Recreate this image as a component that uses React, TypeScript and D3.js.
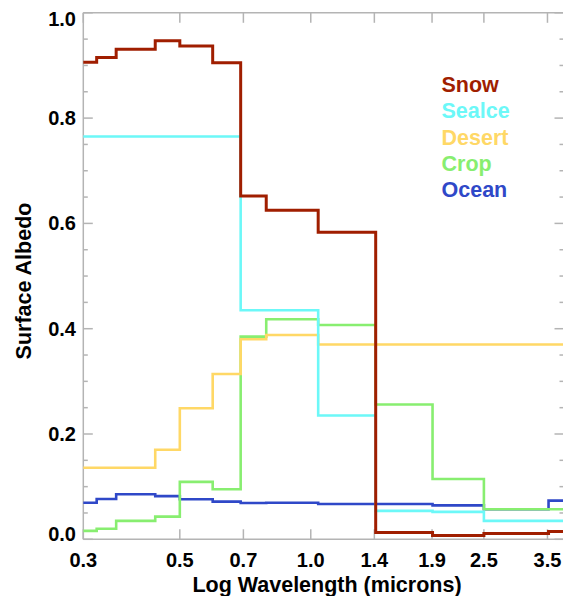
import React from "react";
import * as d3 from "d3";

const edges = [0.3, 0.322, 0.357, 0.439, 0.5, 0.595, 0.69, 0.79, 1.04, 1.41, 1.905, 2.5, 3.52, 3.82];
const snow = [0.906, 0.915, 0.931, 0.947, 0.937, 0.905, 0.652, 0.625, 0.583, 0.013, 0.007, 0.011, 0.015];
const sealce = [0.765, 0.765, 0.765, 0.765, 0.765, 0.765, 0.435, 0.435, 0.235, 0.054, 0.052, 0.035, 0.035];
const desert = [0.136, 0.136, 0.136, 0.17, 0.249, 0.314, 0.38, 0.388, 0.37, 0.37, 0.37, 0.37, 0.37];
const crop = [0.016, 0.02, 0.035, 0.043, 0.109, 0.095, 0.385, 0.418, 0.407, 0.256, 0.1145, 0.057, 0.057];
const ocean = [0.0695, 0.0765, 0.0855, 0.082, 0.076, 0.0715, 0.069, 0.0695, 0.067, 0.067, 0.0645, 0.057, 0.0735];

const seriesNames = ["Snow", "Sealce", "Desert", "Crop", "Ocean"];
const seriesValues = [snow, sealce, desert, crop, ocean];
const seriesColors = ["#a01e00", "#6cf8f8", "#ffd866", "#88ee70", "#2f48c8"];
const seriesWidths = [3, 2.6, 2.6, 2.6, 2.6];

const xTicks = [0.3, 0.5, 0.7, 1.0, 1.4, 1.9, 2.5, 3.5];
const yMajor = [0, 0.2, 0.4, 0.6, 0.8, 1.0];
const yMinor = d3.range(0, 1.0001, 0.05);

const W = 563, H = 596;
const L = 83.3, R = 564, T = 12.8, B = 539.3;
const FONT = "'Liberation Sans', Arial, Helvetica, sans-serif";

export default function App() {
  const x = d3.scaleLog().domain([0.3, 3.82]).range([L, R]);
  const y = d3.scaleLinear().domain([0, 1]).range([B, T]);
  const line = d3
    .line<[number, number]>()
    .x((d) => x(d[0]))
    .y((d) => y(d[1]))
    .curve(d3.curveStepAfter);
  const axisColor = "#b4b4b4";
  const order = [4, 3, 2, 1, 0];

  return (
    <svg width={W} height={H} style={{ position: "absolute", left: 0, top: 0, background: "#fff" }}>
      <defs>
        <clipPath id="plot">
          <rect x={L} y={T - 3} width={R - L} height={B - T + 6} />
        </clipPath>
      </defs>
      {/* axes box */}
      <g stroke={axisColor} strokeWidth={1.5} fill="none">
        <line x1={L} x2={R} y1={T} y2={T} />
        <line x1={L} x2={R} y1={B} y2={B} />
        <line x1={L} x2={L} y1={T} y2={B} />
        <line x1={R} x2={R} y1={T} y2={B} />
        {xTicks.map((t) => (
          <g key={"xt" + t}>
            <line x1={x(t)} x2={x(t)} y1={B} y2={B - 10} />
            <line x1={x(t)} x2={x(t)} y1={T} y2={T + 10} />
          </g>
        ))}
        {yMinor.map((t, i) => {
          const major = i % 4 === 0;
          const len = major ? 9.5 : 4.5;
          return (
            <g key={"yt" + i}>
              <line x1={L} x2={L + len} y1={y(t)} y2={y(t)} />
              <line x1={R} x2={R - len} y1={y(t)} y2={y(t)} />
            </g>
          );
        })}
      </g>
      {/* series */}
      <g clipPath="url(#plot)" fill="none">
        {order.map((k) => {
          const vals = seriesValues[k];
          const pts: [number, number][] = vals.map((v, i) => [edges[i], v]);
          pts.push([edges[edges.length - 1], vals[vals.length - 1]]);
          return (
            <path
              key={seriesNames[k]}
              d={line(pts) || ""}
              stroke={seriesColors[k]}
              strokeWidth={seriesWidths[k]}
              strokeLinejoin="miter"
              strokeLinecap="square"
            />
          );
        })}
      </g>
      {/* y tick labels */}
      <g fontFamily={FONT} fontWeight="bold" fontSize={20} fill="#000">
        {yMajor.map((t) => (
          <text
            key={"yl" + t}
            x={76}
            y={Math.min(Math.max(y(t), 19), 533.5)}
            textAnchor="end"
            dominantBaseline="central"
          >
            {t.toFixed(1)}
          </text>
        ))}
        {xTicks.map((t) => (
          <text key={"xl" + t} x={x(t)} y={566.5} textAnchor="middle">
            {t.toFixed(1)}
          </text>
        ))}
      </g>
      {/* titles */}
      <text
        x={327}
        y={592}
        textAnchor="middle"
        fontFamily={FONT}
        fontWeight="bold"
        fontSize={21.5}
      >
        Log Wavelength (microns)
      </text>
      <text
        transform="translate(31,281) rotate(-90)"
        textAnchor="middle"
        fontFamily={FONT}
        fontWeight="bold"
        fontSize={21.5}
      >
        Surface Albedo
      </text>
      {/* legend */}
      <g fontFamily={FONT} fontWeight="bold" fontSize={21.5}>
        {seriesNames.map((n, i) => (
          <text key={n} x={441.5} y={92 + i * 26.25} fill={seriesColors[i]}>
            {n}
          </text>
        ))}
      </g>
    </svg>
  );
}
